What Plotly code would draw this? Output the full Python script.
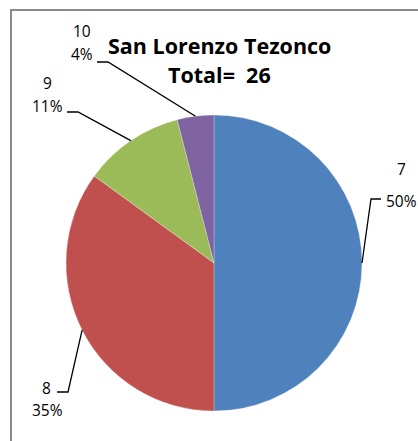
import math
import plotly.graph_objects as go

# ---- data ----
categories = ["7", "8", "9", "10"]
values = [50, 35, 11, 4]          # percent shares shown on the chart (total = 26)
colors = ["#4F81BD", "#C0504D", "#9BBB59", "#8064A2"]
title_lines = ["San Lorenzo Tezonco", "Total=  26"]

W, H = 418, 441
CX, CY, R = 214, 263, 148  # pie centre / radius in pixels

total = sum(values)
pct = [round(v / total * 100) for v in values]

fig = go.Figure()
fig.add_trace(go.Pie(
    labels=categories, values=values, sort=False, direction="clockwise",
    rotation=0, textinfo="none", hoverinfo="label+percent",
    marker=dict(colors=colors, line=dict(color="rgba(255,255,255,0.45)", width=0.6)),
    domain=dict(x=[(CX - R) / W, (CX + R) / W], y=[1 - (CY + R) / H, 1 - (CY - R) / H]),
    showlegend=False,
))

# invisible pixel axis for overlays
fig.add_trace(go.Scatter(x=[0, W], y=[0, H], mode="markers", marker=dict(opacity=0),
                         hoverinfo="skip", showlegend=False))

label_layout = {
    "7": dict(elbow=(371, 199), end=(381, 199), x=401, ny=169, py=201),
    "8": dict(elbow=(68, 392), end=(57, 392), x=47, ny=388, py=410),
    "9": dict(elbow=(78, 112), end=(67, 112), x=47, ny=83, py=106),
    "10": dict(elbow=(108, 62), end=(97, 62), x=82, ny=31, py=54),
}

FONT = "Open Sans"
LS = 15.5
shapes = []
annotations = []
cum = 0
for cat, v, p in zip(categories, values, pct):
    mid = (cum + v / 2) / total * 2 * math.pi
    cum += v
    ax = CX + R * math.sin(mid)
    ay = CY - R * math.cos(mid)
    L = label_layout[cat]
    ex, ey = L["elbow"]
    fx, fy = L["end"]
    shapes.append(dict(type="path", xref="x", yref="y",
                       path=f"M{ax:.1f},{ay:.1f} L{ex},{ey} L{fx},{fy}",
                       line=dict(color="black", width=1.3)))
    if cat == "8":
        annotations.append(dict(x=53, y=L["ny"], text=cat, xanchor="right", yanchor="middle",
                                showarrow=False, xref="x", yref="y",
                                font=dict(family=FONT, size=LS, color="black")))
    else:
        annotations.append(dict(x=L["x"], y=L["ny"], text=cat, xanchor="center", yanchor="middle",
                                showarrow=False, xref="x", yref="y",
                                font=dict(family=FONT, size=LS, color="black")))
    annotations.append(dict(x=L["x"], y=L["py"], text=f"{p}%", xanchor="center", yanchor="middle",
                            showarrow=False, xref="x", yref="y",
                            font=dict(family=FONT, size=LS, color="black")))

# title
for txt, ty in zip(title_lines, [45, 74]):
    annotations.append(dict(x=219, y=ty, text=txt, showarrow=False, xref="x", yref="y",
                            xanchor="center", yanchor="middle",
                            font=dict(family=FONT, size=21.5, color="black", weight="bold")))

# outer border
shapes.append(dict(type="rect", xref="x", yref="y", x0=11, y0=10, x1=W + 20, y1=H + 20,
                   line=dict(color="#8C8C8C", width=2), layer="below"))

fig.update_layout(
    width=W, height=H, margin=dict(l=0, r=0, t=0, b=0),
    paper_bgcolor="white", plot_bgcolor="rgba(0,0,0,0)",
    xaxis=dict(range=[0, W], visible=False, fixedrange=True),
    yaxis=dict(range=[H, 0], visible=False, fixedrange=True),
    shapes=shapes, annotations=annotations,
)

fig.write_html("out.html", config={"displayModeBar": False},
               post_script="document.body.style.margin='0';document.body.style.overflow='hidden';")
